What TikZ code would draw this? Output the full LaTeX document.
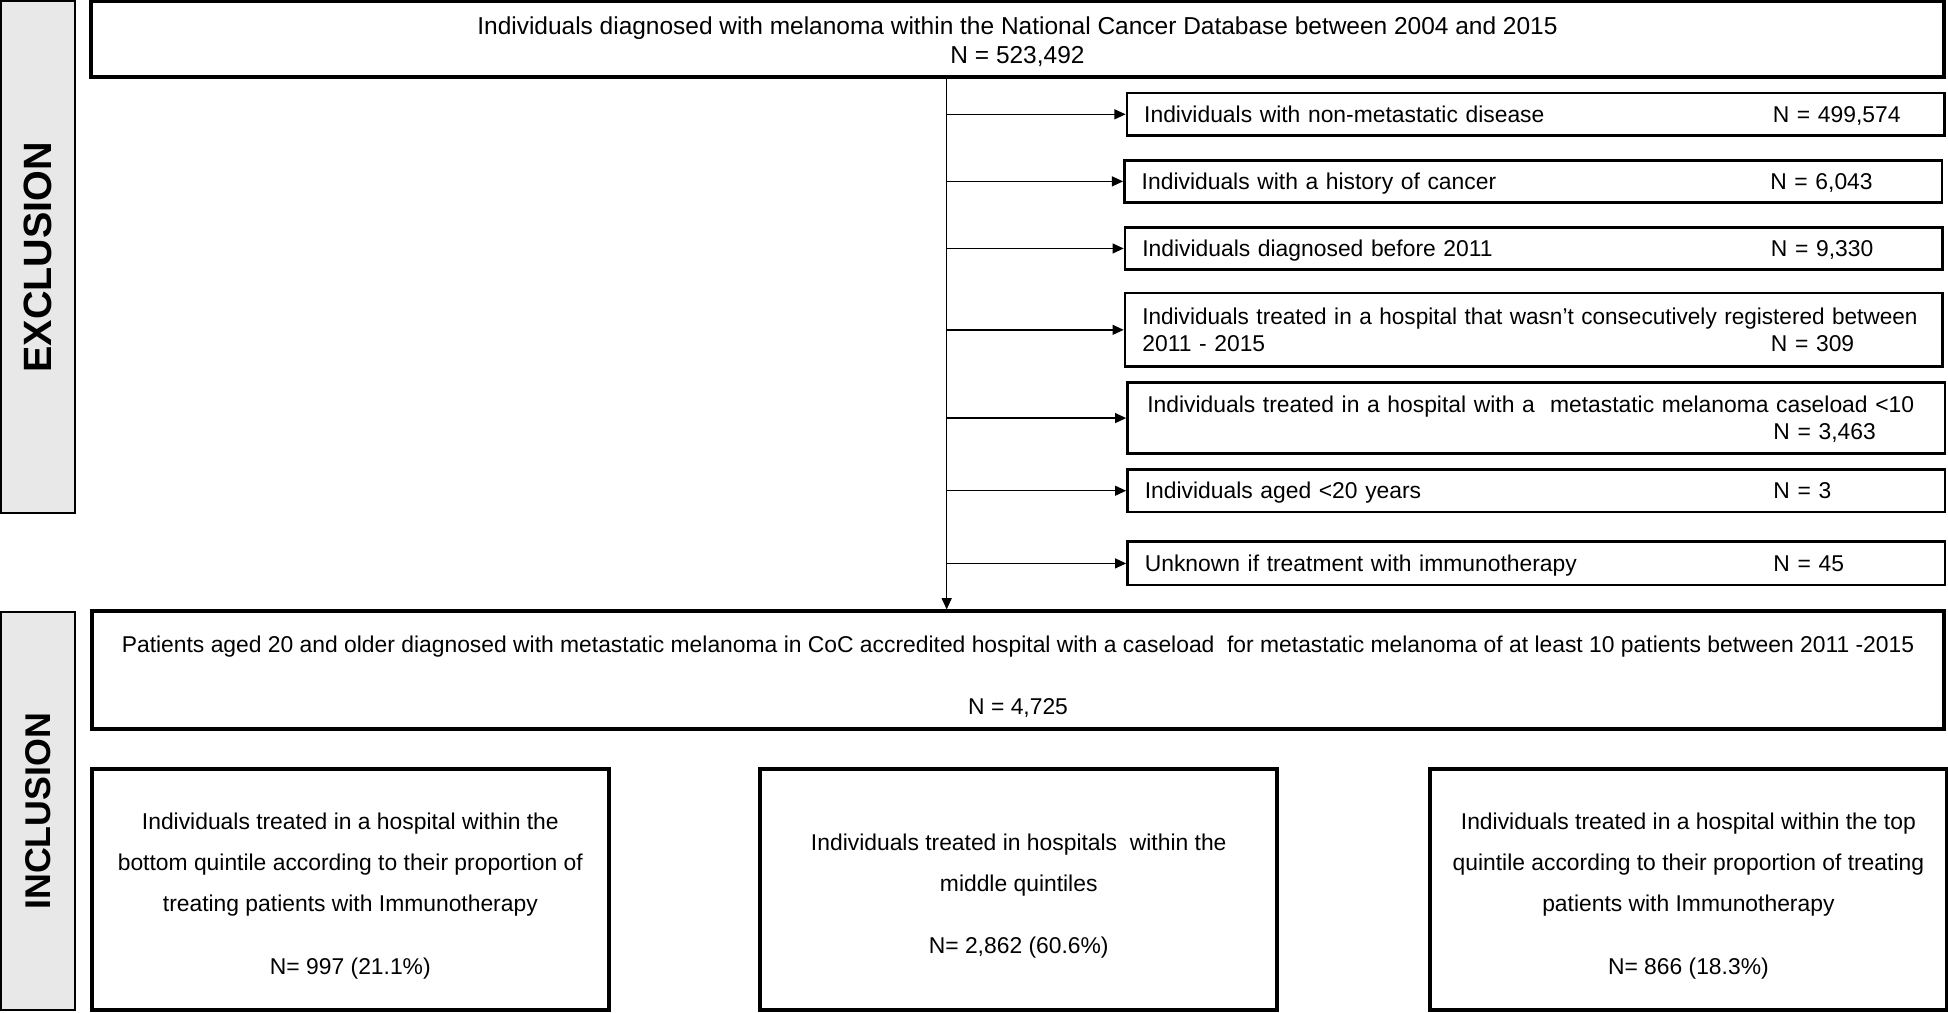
\documentclass[tikz,border=0pt]{standalone}
\usepackage{fontspec}
\usepackage{graphicx}
\setmainfont{Liberation Sans}
\usetikzlibrary{arrows.meta}
\newcommand\exstrut{\rule[-2.25pt]{0pt}{11pt}}
\begin{document}
\begin{tikzpicture}[x=0.5pt,y=-0.5pt,
  every node/.style={font=\fontsize{9.2}{11}\selectfont, inner sep=0pt},
  side/.style={draw=black, line width=0.8pt, fill=gray!18},
  thickbox/.style={draw, line width=1.5pt},
  exbox/.style={draw, line width=1pt, text width=315pt, align=left, inner xsep=7pt},
  lowbox/.style={thickbox, minimum width=208pt, minimum height=97pt, align=center, font=\fontsize{9.2}{16.5}\selectfont},
  arr/.style={line width=0.6pt, -{Triangle[length=4.5pt,width=4pt]}}]
\useasboundingbox (0,0) rectangle (1568,815);

% side labels
\node[side, rotate=90, minimum width=206pt, minimum height=29.5pt, font=\bfseries\fontsize{15.9}{16}\selectfont] (excl) at (30.5,207) {EXCLUSION};
\node[side, rotate=90, minimum width=160pt, minimum height=29.5pt, font=\bfseries\fontsize{14.4}{16}\selectfont] (incl) at (30.5,653) {INCLUSION};

% top box
\node[thickbox, minimum width=746pt, minimum height=30.5pt, align=center, font=\fontsize{9.85}{12}\selectfont] (top) at (819,31.5)
  {\rule{0pt}{9.2pt}Individuals diagnosed with melanoma within the National Cancer Database between 2004 and 2015\\N = 523,492};

% exclusion boxes
\node[exbox, minimum height=17pt] (e1) at (1236,92) {\exstrut\makebox[253pt][l]{Individuals with non-metastatic disease}N = 499,574};
\node[exbox, minimum height=17pt] (e2) at (1234,146) {\exstrut\makebox[253pt][l]{Individuals with a history of cancer}N = 6,043};
\node[exbox, minimum height=17pt] (e3) at (1234.5,200) {\exstrut\makebox[253pt][l]{Individuals diagnosed before 2011}N = 9,330};
\node[exbox, minimum height=29.5pt] (e4) at (1234.5,265.5) {\exstrut\makebox[315pt][l]{\resizebox{312pt}{\height}{Individuals treated in a hospital that wasn’t consecutively registered between}}\\\exstrut\makebox[253pt][l]{2011 - 2015}N = 309};
\node[exbox, minimum height=28.5pt] (e5) at (1236.5,336.5) {\exstrut\hspace*{1pt}Individuals treated in a hospital with a~ metastatic melanoma caseload <10\\\exstrut\hspace*{253pt}N = 3,463};
\node[exbox, minimum height=17pt] (e6) at (1236.5,395) {\exstrut\makebox[253pt][l]{Individuals aged <20 years}N = 3};
\node[exbox, minimum height=17.5pt] (e7) at (1236.5,453.5) {\exstrut\makebox[253pt][l]{Unknown if treatment with immunotherapy}N = 45};

% inclusion main box
\node[thickbox, minimum width=745.5pt, minimum height=47.5pt, align=center, font=\fontsize{9.2}{12}\selectfont] (inc) at (819.5,539.5)
  {\rule{0pt}{11.7pt}Patients aged 20 and older diagnosed with metastatic melanoma in CoC accredited hospital with a caseload~ for metastatic melanoma of at least 10 patients between 2011 -2015\\[13pt]N = 4,725};

% bottom boxes
\node[lowbox] (b1) at (282,716)
  {\rule{0pt}{12pt}Individuals treated in a hospital within the\\bottom quintile according to their proportion of\\treating patients with Immunotherapy\\[9pt]N= 997 (21.1\%)};
\node[lowbox] (b2) at (820,716)
  {\rule{0pt}{12pt}Individuals treated in hospitals~ within the\\middle quintiles\\[8.5pt]N= 2,862 (60.6\%)};
\node[lowbox] (b3) at (1359,716)
  {\rule{0pt}{12pt}Individuals treated in a hospital within the top\\quintile according to their proportion of treating\\patients with Immunotherapy\\[9pt]N= 866 (18.3\%)};

% connectors
\coordinate (sx) at (762,0);
\coordinate (s0) at (top.south -| sx);
\draw[arr] (s0) -- (s0 |- inc.north);
\foreach \e in {e1,e2,e3,e4,e5,e6,e7}
  \draw[arr] (s0 |- \e.west) -- (\e.west);
\end{tikzpicture}
\end{document}
